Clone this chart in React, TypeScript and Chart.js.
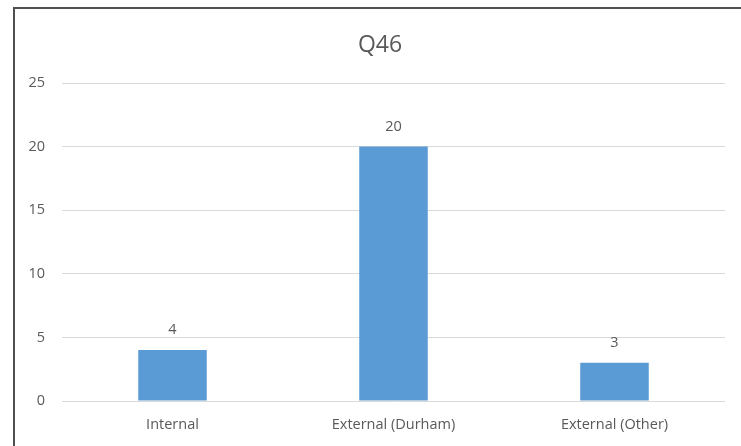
import React, { useEffect, useRef } from "react";
import { Chart, registerables } from "chart.js";

Chart.register(...registerables);

const categories = ["Internal", "External (Durham)", "External (Other)"];
const counts = [4, 20, 3];
const yTicks = [0, 5, 10, 15, 20, 25];
const chartTitle = "Q46";

const FONT = "'Open Sans', 'Noto Sans', sans-serif";
const TEXT = "#595959";

// Draws the title and the value labels above each bar.
const labelsPlugin = {
  id: "q46Labels",
  afterDatasetsDraw(chart: any) {
    const { ctx } = chart;
    ctx.save();
    ctx.fillStyle = TEXT;
    ctx.textAlign = "center";
    ctx.textBaseline = "middle";
    ctx.font = `23px ${FONT}`;
    ctx.fillText(chartTitle, 380, 45);

    ctx.font = `14.5px ${FONT}`;
    const meta = chart.getDatasetMeta(0);
    meta.data.forEach((bar: any, i: number) => {
      ctx.fillText(String(counts[i]), bar.x, bar.y - 20);
    });
    ctx.restore();
  },
};

export default function App() {
  const ref = useRef<HTMLCanvasElement>(null);

  useEffect(() => {
    if (!ref.current) return;
    const chart = new Chart(ref.current, {
      type: "bar",
      data: {
        labels: categories,
        datasets: [
          {
            data: counts,
            backgroundColor: "#5B9BD5",
            categoryPercentage: 1,
            barPercentage: 0.31,
          },
        ],
      },
      options: {
        animation: false,
        responsive: false,
        layout: { padding: { top: 83, right: 16, left: 0, bottom: 0 } },
        plugins: {
          legend: { display: false },
          title: { display: false },
          tooltip: { enabled: false },
        },
        scales: {
          x: {
            grid: { display: false, drawTicks: false },
            border: { display: false },
            ticks: {
              color: TEXT,
              font: { family: FONT, size: 14.5 },
              padding: 15,
              maxRotation: 0,
            },
            afterFit(scale: any) {
              scale.height = 45;
            },
          },
          y: {
            min: 0,
            max: 25,
            afterBuildTicks(scale: any) {
              scale.ticks = yTicks.map((v) => ({ value: v }));
            },
            grid: { color: "#d9d9d9", lineWidth: 1, drawTicks: false },
            border: { display: false },
            ticks: {
              color: TEXT,
              font: { family: FONT, size: 14.5 },
              padding: 17,
            },
            afterFit(scale: any) {
              scale.width = 62;
            },
          },
        },
      },
      plugins: [labelsPlugin],
    });
    return () => chart.destroy();
  }, []);

  return (
    <div
      style={{
        position: "fixed",
        left: 0,
        top: 0,
        width: 741,
        height: 446,
        overflow: "hidden",
        background: "#ffffff",
      }}
    >
      <div
        style={{
          position: "absolute",
          left: 13,
          top: 7,
          width: 800,
          height: 500,
          border: "2px solid #505050",
          boxSizing: "border-box",
        }}
      />
      <canvas
        ref={ref}
        width={741}
        height={446}
        style={{ position: "absolute", left: 0, top: 0, width: 741, height: 446 }}
      />
    </div>
  );
}
